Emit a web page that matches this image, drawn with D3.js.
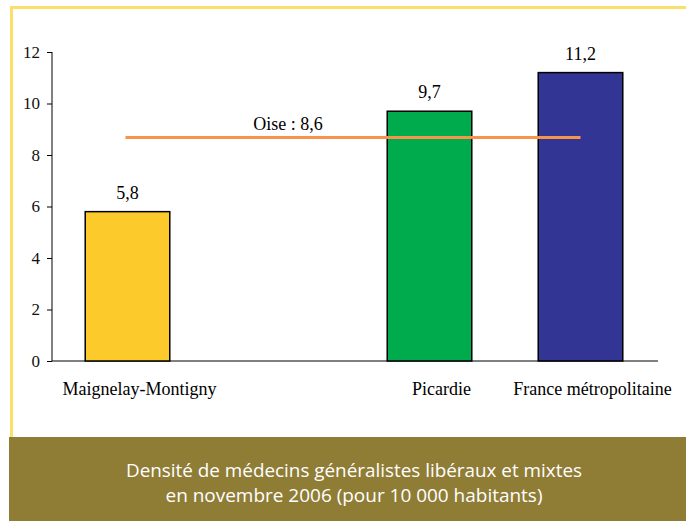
<!DOCTYPE html>
<html>
<head>
<meta charset="utf-8">
<script src="https://cdn.jsdelivr.net/npm/d3@7"></script>
<style>
  body { margin: 0; background: #fff; }
</style>
</head>
<body>
<script>
// data
var categories = ["Maignelay-Montigny", "", "Picardie", "France métropolitaine"];
var values = [5.8, null, 9.7, 11.2];
var valueLabels = ["5,8", "", "9,7", "11,2"];
var barColors = ["#fccb2b", "none", "#00ab4e", "#333594"];
var oiseValue = 8.6;
var oiseLabel = "Oise : 8,6";
var yTicks = [0, 2, 4, 6, 8, 10, 12];
var caption = ["Densité de médecins généralistes libéraux et mixtes",
               "en novembre 2006 (pour 10 000 habitants)"];

var width = 686, height = 521;
var svg = d3.select("body").append("svg")
  .attr("width", width).attr("height", height)
  .attr("font-family", "Liberation Serif");

// frame
svg.append("path")
  .attr("d", "M11.5,437 V7.5 H686")
  .attr("fill", "none")
  .attr("stroke", "#fbdf6b")
  .attr("stroke-width", 3);

svg.append("rect")
  .attr("x", 9).attr("y", 437).attr("width", width - 9).attr("height", height - 437)
  .attr("fill", "#8f7d36");

svg.selectAll(".cap").data(caption).enter().append("text")
  .attr("x", 354).attr("y", function (d, i) { return 477 + i * 25; })
  .attr("text-anchor", "middle")
  .attr("fill", "#fff")
  .attr("font-family", "Open Sans")
  .attr("font-size", 18.5)
  .attr("textLength", function (d, i) { return i == 0 ? 456 : 377; })
  .attr("lengthAdjust", "spacingAndGlyphs")
  .text(function (d) { return d; });

// chart
var x = d3.scaleBand().domain(d3.range(categories.length)).range([52, 656]).paddingInner(0.44).paddingOuter(0.22);
var y = d3.scaleLinear().domain([0, 12]).range([361, 52]);

var g = svg.append("g").attr("font-family", "Liberation Serif").attr("font-size", 18);

g.append("g")
  .attr("transform", "translate(52,0)")
  .call(d3.axisLeft(y).tickValues(yTicks).tickSize(5).tickPadding(7))
  .attr("font-family", "Liberation Serif")
  .attr("font-size", 17)
  .call(function (a) {
    a.select(".domain").attr("d", "M0," + y(12) + "V" + y(0));
    a.selectAll("text").attr("fill", "#111");
  });

g.append("line")
  .attr("x1", 52).attr("x2", 658).attr("y1", y(0)).attr("y2", y(0))
  .attr("stroke", "#000");

var idx = d3.range(categories.length).filter(function (i) { return values[i] != null; });

g.selectAll(".bar").data(idx).enter().append("rect")
  .attr("x", function (i) { return x(i); })
  .attr("y", function (i) { return y(values[i]); })
  .attr("width", x.bandwidth())
  .attr("height", function (i) { return y(0) - y(values[i]); })
  .attr("fill", function (i) { return barColors[i]; })
  .attr("stroke", "#000")
  .attr("stroke-width", 1.5);

g.selectAll(".val").data(idx).enter().append("text")
  .attr("x", function (i) { return x(i) + x.bandwidth() / 2; })
  .attr("y", function (i) { return y(values[i]) - 13; })
  .attr("text-anchor", "middle")
  .text(function (i) { return valueLabels[i]; });

g.selectAll(".cat").data(idx).enter().append("text")
  .attr("x", function (i) { return x(i) + x.bandwidth() / 2 + 12; })
  .attr("y", 395)
  .attr("text-anchor", "middle")
  .text(function (i) { return categories[i]; });

// Oise line
var cx0 = x(0) + x.bandwidth() / 2 - 2, cx1 = x(3) + x.bandwidth() / 2;
g.append("line")
  .attr("x1", cx0).attr("x2", cx1)
  .attr("y1", y(oiseValue) - 2).attr("y2", y(oiseValue) - 2)
  .attr("stroke", "#f7934b")
  .attr("stroke-width", 3);

g.append("text")
  .attr("x", 288).attr("y", y(oiseValue) - 10)
  .attr("text-anchor", "middle")
  .text(oiseLabel);
</script>
</body>
</html>
